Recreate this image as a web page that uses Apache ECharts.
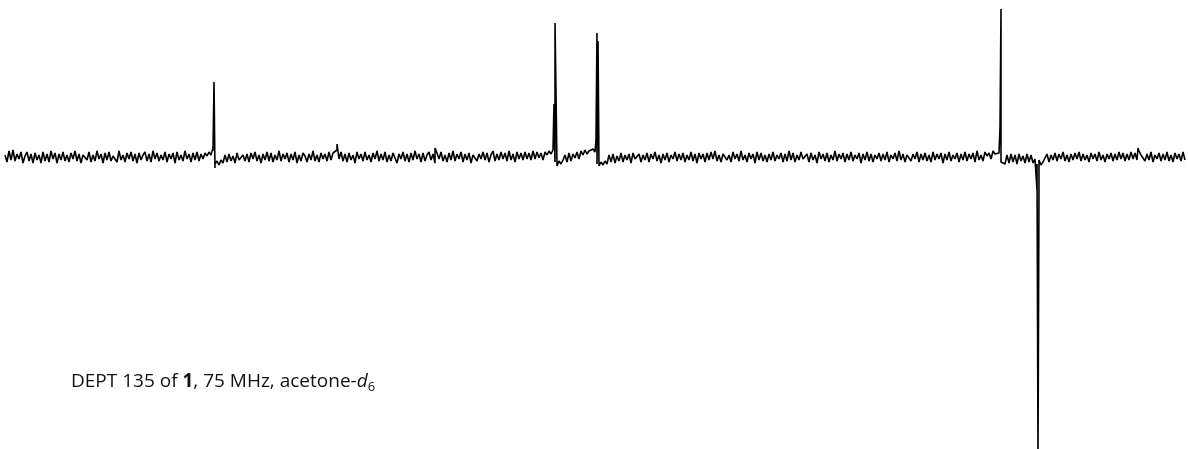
<!DOCTYPE html>
<html>
<head>
<meta charset="utf-8">
<script src="https://cdn.jsdelivr.net/npm/echarts@6/dist/echarts.min.js"></script>
<style>
html,body{margin:0;padding:0;background:#fff;}
#chart{width:1189px;height:449px;}
</style>
</head>
<body>
<div id="chart"></div>
<script>
// Spectrum range (ppm), sampled noise baseline on an even grid
var ppmStart = 160;
var ppmEnd = 0;
var noise = [
2,-5,6,-3,7,-4,3,-2,5,-6,1,5,-4,3,-6,4,-3,2,-6,5,
-4,3,-5,6,-2,4,-6,3,-3,5,-4,2,-5,4,-2,6,-4,3,-6,2,
4,-3,5,-5,2,-4,6,-2,3,-6,4,-3,5,-4,1,3,-5,6,-3,2,
-5,4,-2,5,-4,3,-6,4,-3,2,5,-4,3,-5,6,-2,4,-4,2,-3,
5,-5,3,-2,4,-6,5,-3,2,-4,6,-2,3,-5,4,-3,5,-4,3,-2,
4,1,5,2,6,-7,-4,-8,-3,-6,2,-5,3,-4,1,-6,4,-3,-5,2,
-4,3,-5,4,-2,5,-4,2,-6,3,-3,5,-4,4,-5,2,-3,6,-4,3,
-2,4,-5,3,-3,5,-6,2,-4,4,1,-5,3,-3,6,-4,2,-5,4,-2,
3,-4,5,-3,4,2,7,-2,5,-4,3,-5,4,-3,2,-6,5,-2,3,-4,
5,-3,2,-5,4,-2,6,-4,3,-3,5,-5,2,-4,4,-1,-6,3,-2,5,
-4,3,-5,4,-3,6,-2,3,-5,4,-4,2,5,-3,3,-6,4,-2,5,-4,
2,-5,4,-3,6,-4,3,-2,5,-5,3,-3,4,-6,2,4,-4,3,-2,5,
-3,4,-5,2,6,-4,3,-3,5,-2,4,-4,6,-3,3,-5,5,-2,4,-3,
5,-2,4,-3,6,-2,5,-1,4,-3,5,2,6,3,7,-5,-9,-4,-7,-3,
2,-5,4,-4,3,-1,5,-2,6,2,7,3,6,4,8,5,-7,-10,-5,-8,
-4,-7,2,-5,3,-6,1,-4,4,-5,2,-3,3,-6,4,-2,-4,3,-5,2,
-3,4,-5,3,-2,5,-4,2,-6,3,-3,4,-5,2,-2,5,-4,3,-3,4,
-5,2,-3,5,-4,3,-6,4,-2,3,-5,4,-3,5,-2,6,-4,2,-5,3,
4,-3,2,-5,5,-2,3,-4,6,-3,2,-5,4,-2,3,-6,5,-3,4,-4,
2,-5,3,-3,5,-4,2,-2,4,-5,3,-4,6,-3,4,-5,2,-3,5,-2,
-4,3,-5,4,-3,2,-6,5,-2,3,-4,4,-5,2,-3,6,-4,3,-2,4,
-5,3,-3,5,-4,2,-2,4,-6,3,-3,5,-4,3,-5,2,-2,4,-4,3,
-3,5,-5,2,-2,4,-4,6,-3,3,-5,2,4,-4,3,-2,5,-5,3,-3,
4,-4,2,-5,5,-3,3,-2,4,-6,3,-3,5,-4,2,-2,4,-5,3,-3,
5,-4,3,-2,4,-5,6,-3,2,-4,5,1,4,-2,6,3,5,4,-5,-3,
-7,2,-6,3,-5,2,-7,3,-4,1,-6,3,-5,2,-6,-2,-7,-3,-8,-5,
-4,3,-5,2,-3,4,-4,3,-2,5,-4,2,-5,3,-3,4,-2,5,-4,3,
-3,2,-5,4,-2,3,-4,5,-3,2,-5,3,-2,4,-4,3,-3,5,-2,4,
-4,3,-3,5,-2,4,-3,6,2,4,-4,3,-3,5,-5,2,-2,4,-4,3,
-3,5,-4,2,-5,4,-2,3,-4,5,-3
];
// Peak positions (ppm) and intensities (DEPT: CH/CH3 up, CH2 down)
var peakPpm    = [131.80, 131.66, 131.53, 114.98, 101.69, 85.56, 85.42, 79.86, 79.73, 79.59, 79.46, 25.08, 24.95, 20.07, 19.93, 19.80, 6.37];
var peakHeight = [9,      75,     -11,    13,     9,      53,    134,   18,    124,   116,   -9,    30,    148,   -33,   -300,  -33,   9];

var caption = ['DEPT 135 of ', '1', ', 75 MHz, acetone-', 'd', '6'];

var pts = [];
var step = (ppmStart - ppmEnd) / (noise.length - 1);
for (var i = 0; i < noise.length; i++) pts.push([ppmStart - i * step, noise[i]]);
for (var j = 0; j < peakPpm.length; j++) pts.push([peakPpm[j], peakHeight[j]]);
pts.sort(function (a, b) { return b[0] - a[0]; });

var chart = echarts.init(document.getElementById('chart'), null, {renderer: 'canvas'});
chart.setOption({
  animation: false,
  backgroundColor: '#fff',
  title: {
    left: 66,
    top: 365,
    text: '{a|' + caption[0] + '}{b|' + caption[1] + '}{a|' + caption[2] + '}{i|' + caption[3] + '}{s|' + caption[4] + '}',
    textStyle: {
      fontWeight: 'normal',
      rich: {
        a: {fontFamily: 'Open Sans', fontSize: 19, fontWeight: 'normal', color: '#111', lineHeight: 24},
        b: {fontFamily: 'Open Sans', fontSize: 19, fontWeight: 'bold', color: '#111', lineHeight: 24},
        i: {fontFamily: 'Open Sans', fontSize: 19, fontWeight: 'normal', fontStyle: 'italic', color: '#111', lineHeight: 24},
        s: {fontFamily: 'Open Sans', fontSize: 13, fontWeight: 'normal', color: '#111', lineHeight: 13, verticalAlign: 'bottom'}
      }
    }
  },
  grid: {left: 5, right: 4, top: 0, bottom: 0},
  xAxis: {type: 'value', min: ppmEnd, max: ppmStart, inverse: true, show: false},
  yAxis: {type: 'value', min: -292, max: 157, show: false},
  series: [{
    type: 'line',
    data: pts,
    showSymbol: false,
    lineStyle: {color: '#000', width: 1.6},
    clip: true
  }]
});
</script>
</body>
</html>
